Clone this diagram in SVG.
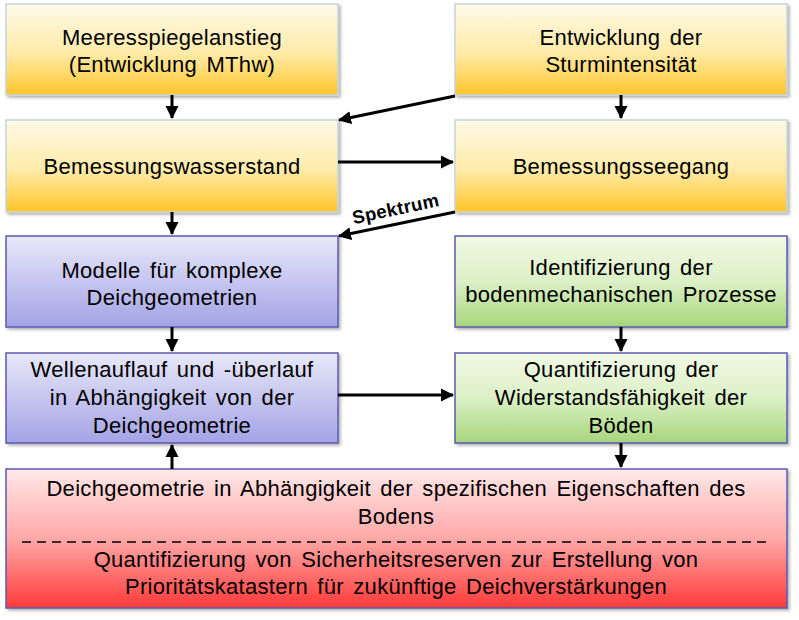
<svg xmlns="http://www.w3.org/2000/svg" width="799" height="620" viewBox="0 0 799 620">
<defs>
<linearGradient id="gy" x1="0" y1="0" x2="0" y2="1">
<stop offset="0" stop-color="#fffaea"/><stop offset="0.55" stop-color="#ffeaa6"/><stop offset="1" stop-color="#ffc52a"/>
</linearGradient>
<linearGradient id="gb" x1="0" y1="0" x2="0" y2="1">
<stop offset="0" stop-color="#e8e8f9"/><stop offset="1" stop-color="#a3a3e6"/>
</linearGradient>
<linearGradient id="gg" x1="0" y1="0" x2="0" y2="1">
<stop offset="0" stop-color="#f1f9e6"/><stop offset="0.5" stop-color="#dcf0c6"/><stop offset="1" stop-color="#a6d67c"/>
</linearGradient>
<linearGradient id="gr" x1="0" y1="0" x2="0" y2="1">
<stop offset="0" stop-color="#ffe8e8"/><stop offset="0.5" stop-color="#ffa8a8"/><stop offset="1" stop-color="#ff3a3a"/>
</linearGradient>
<filter id="sh" x="-5%" y="-5%" width="110%" height="115%">
<feDropShadow dx="2" dy="2" stdDeviation="1.5" flood-color="#000" flood-opacity="0.3"/>
</filter>
<marker id="ah" markerUnits="userSpaceOnUse" markerWidth="14" markerHeight="14" viewBox="0 0 14 14" refX="12" refY="7" orient="auto">
<path d="M0,0.5 L13,7 L0,13.5 Z" fill="#000"/>
</marker>
<style>
.y{fill:url(#gy);stroke:#c3d5dd;stroke-width:1.5;filter:url(#sh)}
.b{fill:url(#gb);stroke:#5a5ab0;stroke-width:1.5;filter:url(#sh)}
.g{fill:url(#gg);stroke:#5a5ab0;stroke-width:1.5;filter:url(#sh)}
.r{fill:url(#gr);stroke:#5a5ab0;stroke-width:1.5;filter:url(#sh)}
text{font-family:"Liberation Sans",Arial,sans-serif;font-size:22px;fill:#000;text-anchor:middle;word-spacing:3px;letter-spacing:0.3px}
.c{fill:none;stroke:#000;stroke-width:3;marker-end:url(#ah)}
</style>
</defs>

<g id="n1"><rect class="y" x="6" y="4" width="332" height="91"/>
<text x="172" y="45">Meeresspiegelanstieg</text><text x="172" y="72">(Entwicklung MThw)</text></g>

<g id="n2"><rect class="y" x="455" y="4" width="332" height="91"/>
<text x="621" y="45">Entwicklung der</text><text x="621" y="72">Sturmintensität</text></g>

<g id="n3"><rect class="y" x="6" y="120" width="332" height="92"/>
<text x="172" y="174">Bemessungswasserstand</text></g>

<g id="n4"><rect class="y" x="455" y="120" width="332" height="92"/>
<text x="621" y="174">Bemessungsseegang</text></g>

<g id="n5"><rect class="b" x="6" y="236" width="332" height="91"/>
<text x="172" y="278">Modelle für komplexe</text><text x="172" y="305">Deichgeometrien</text></g>

<g id="n6"><rect class="g" x="455" y="236" width="332" height="91"/>
<text x="621" y="275">Identifizierung der</text><text x="621" y="302">bodenmechanischen Prozesse</text></g>

<g id="n7"><rect class="b" x="6" y="353" width="332" height="90"/>
<text x="172" y="377">Wellenauflauf und -überlauf</text><text x="172" y="405">in Abhängigkeit von der</text><text x="172" y="433">Deichgeometrie</text></g>

<g id="n8"><rect class="g" x="455" y="353" width="332" height="90"/>
<text x="621" y="377">Quantifizierung der</text><text x="621" y="405">Widerstandsfähigkeit der</text><text x="621" y="433">Böden</text></g>

<g id="n9"><rect class="r" x="6" y="469" width="781" height="139"/>
<text x="396" y="496">Deichgeometrie in Abhängigkeit der spezifischen Eigenschaften des</text>
<text x="396" y="524">Bodens</text>
<line x1="22" y1="542" x2="770" y2="542" stroke="#000" stroke-width="1.5" stroke-dasharray="9,6"/>
<text x="396" y="567">Quantifizierung von Sicherheitsreserven zur Erstellung von</text>
<text x="396" y="594">Prioritätskatastern für zukünftige Deichverstärkungen</text></g>

<g id="connectors">
<line class="c" x1="172" y1="95" x2="172" y2="118"/>
<line class="c" x1="621" y1="95" x2="621" y2="118"/>
<line class="c" x1="455" y1="96" x2="339" y2="120"/>
<line class="c" x1="338" y1="162" x2="453" y2="162"/>
<line class="c" x1="455" y1="212" x2="339" y2="236"/>
<line class="c" x1="172" y1="212" x2="172" y2="234"/>
<line class="c" x1="172" y1="327" x2="172" y2="351"/>
<line class="c" x1="621" y1="327" x2="621" y2="351"/>
<line class="c" x1="338" y1="395" x2="453" y2="395"/>
<line class="c" x1="621" y1="443" x2="621" y2="467"/>
<line class="c" x1="172" y1="469" x2="172" y2="445"/>
<text x="397" y="215" transform="rotate(-12 397 215)" style="font-weight:bold;font-size:18.5px;letter-spacing:0.4px">Spektrum</text>
</g>
</svg>
